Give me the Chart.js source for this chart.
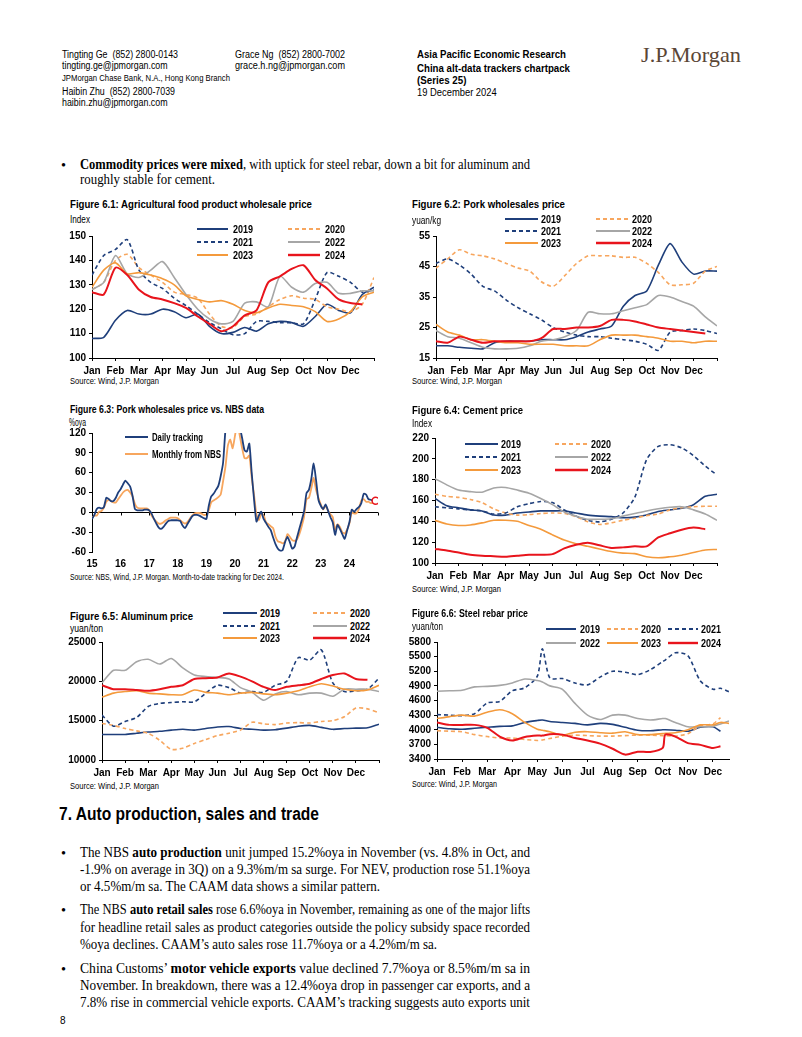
<!DOCTYPE html>
<html>
<head>
<meta charset="utf-8">
<title>China alt-data trackers chartpack</title>
<script src="https://cdn.jsdelivr.net/npm/chart.js@4.4.1/dist/chart.umd.min.js"></script>
<style>
  html, body { margin: 0; padding: 0; background: #fff; }
  #page { position: relative; width: 802px; height: 1037px; overflow: hidden; background: #fff;
          font-family: 'Liberation Sans', Arial, sans-serif; color: #000; }
  .t { position: absolute; white-space: nowrap; line-height: 1; transform-origin: 0 50%; }
  .hd { font-size: 10px; }
  .sm { font-size: 8.5px; }
  .b { font-weight: bold; }
  .ttl { font-size: 11.5px; font-weight: bold; }
  .unit { font-size: 10px; }
  .src { font-size: 9px; }
  .lg { font-size: 10.5px; font-weight: bold; }
  .body { font-family: 'Liberation Serif', 'Times New Roman', serif; font-size: 14.3px; }
  .h2 { font-size: 18px; font-weight: bold; }
  .logo { font-family: 'Liberation Serif', 'Times New Roman', serif; font-size: 21px; color: #5a4636; }
  canvas { position: absolute; }
  svg { position: absolute; overflow: visible; }
</style>
</head>
<body>
<div id="page"></div>
<script>
// ---------- data ----------
var MONTHS = ['Jan','Feb','Mar','Apr','May','Jun','Jul','Aug','Sep','Oct','Nov','Dec'];
var YEARS_SHORT = ['15','16','17','18','19','20','21','22','23','24'];
var SERIES = ['2019','2020','2021','2022','2023','2024'];

// semi-monthly positions, in months from 1 Jan
var HALF_MONTHS = [0,0.5,1,1.5,2,2.5,3,3.5,4,4.5,5,5.5,6,6.5,7,7.5,8,8.5,9,9.5,10,10.5,11,11.5,12];

// Figure 6.1: agricultural food product wholesale price (index)
var agri2019 = [108,108.5,115.5,119.5,118,118,120,119,116.5,118,113,110,110.5,112.5,111,114,115,114.5,113,117,122,119.5,118.5,126,129];
var agri2020 = [128,131,140,142.5,137,134,131,127,126,124.5,118,113,112.5,117,118,121,124,125.5,124.5,124,121,120,119,122,133];
var agri2021 = [134,142,144.5,148.5,136,131,128.5,124.5,121.5,118,114.5,112,109.5,110,115,115,114.5,114.5,114,124,135,133.5,131,127,128];
var agri2022 = [128,131,142,134.5,133,136,139.5,133,126,120,116,114,115,122.5,123,121,133.5,129,127,130.5,131,126.5,126.5,127.5,127.5];
var agri2023 = [129,136,139,134.5,135,134,132.5,130,125.5,124,123,123.5,122,119.5,118.5,120.5,122,121.5,121,119,115,116,119,125,127];
var agri2024 = [127,126,137,134,128,125,124,122.5,120.5,117,114,111,113,117.5,119.5,131,133.5,136.5,138,132,128.5,124,122.5,122,null];

// Figure 6.2: pork wholesale price (yuan/kg)
var pork2019 = [19,19,18.5,18.2,18,20,20.5,20.5,20.5,21,21,21,22,23.5,24.5,25.5,32,35.5,37,45.5,52.5,46.5,42.5,43.5,43.5];
var pork2020 = [44.5,47.5,50.5,49,48.5,47.5,46,44.5,43.5,40,38.5,42,46,48.5,48.5,48.5,48,48,46,43,39,39,39.5,43.5,45];
var pork2021 = [46,47.5,45.5,42.5,38.5,37,34,31.5,29.5,27.5,25,23.5,22.5,22,22,21.5,21,20.5,19.5,17.5,23.5,24,24.5,24,23];
var pork2022 = [24,22,21.5,20,18.5,18,18,18.2,19,20.5,21,22,24,30,29.5,29.5,30.5,31.5,32.5,35.5,35,33.5,32,28.5,25.5];
var pork2023 = [26,23.5,22.5,21,21,20.5,20,20,19.5,19.5,19.5,19,19,19,21,22.5,22.5,22.5,22,21.5,20.5,20.5,20,20.5,20.5];
var pork2024 = [20.5,20,22,21,20,20.5,20.5,20.5,20.5,21.5,24.5,24.5,25,25,25.5,27.5,27.5,27,26,25,24.5,24,23.5,23,null];

// Figure 6.3: pork price %oya, monthly Jan 2015 - Dec 2024
var trackDaily = [
  -10,-4,5,7,6,8,22,20,17,17,22,30,
  35,42,48,44,39,25,5,3,3,3,4,4,
  3,-2,-10,-17,-23,-25,-22,-17,-13,-12,-12,-12,
  -12,-13,-20,-24,-18,-12,-6,-4,-4,-5,-7,-9,
  -10,10,24,28,34,40,55,75,125,150,160,135,
  140,150,130,112,94,92,104,60,19,-14,-5,1,
  -10,-16,-22,-27,-38,-48,-55,-58,-57,-45,-37,-45,
  -55,-52,-38,-25,-12,2,29,34,50,74,49,19,
  10,5,12,3,-7,-15,-34,-19,-25,-33,-40,-28,
  -15,4,1,5,8,14,28,27,20,19,17,17
];
var nbsMonthly = [
  -8,-5,-5,1,2,7,16,19,17,15,15,20,
  25,30,33,34,30,24,13,7,6,6,6,6,
  3,-5,-10,-14,-17,-17,-15,-12,-10,-8,-8,-8,
  -9,-12,-15,-17,-15,-10,-5,-2,-1,-1,-2,-4,
  -3,3,15,18,20,23,27,47,69,101,110,97,
  116,135,116,97,82,82,86,53,26,-3,-12,-2,
  -4,-15,-18,-21,-24,-37,-44,-45,-47,-44,-33,-37,
  -42,-43,-41,-33,-21,-6,20,22,36,52,34,22,
  12,4,10,3,-3,-7,-26,-18,-22,-30,-32,-26,
  -17,0,-2,-1,5,18,20,16,16,14,14,null
];
var trackLatestMonth = 119;   // Dec 2024, month-to-date
var trackLatest = 17.5;

// Figure 6.4: cement price (index)
var cem2019 = [162,155,153,151,150,146,146,148,149,150,150,150,148,146,145,144.5,143.5,144,146,149.5,151,152.5,156,164,166];
var cem2020 = [166,164,163,161,158,152,148,146,146.5,147.5,148,147.5,144.5,139.5,137,138.5,141,143,145.5,147,151,153,154,154.5,154.5];
var cem2021 = [154,153,152,151,150,147,148,154,157,159,158,151,145,141,139.5,142,148,163,199,212,213.5,210.5,203,193,184.5];
var cem2022 = [181,175,170,168.5,168,172,172.5,170,167,162,156,149,145,142,142,142.5,145,147.5,150,152,153.5,154,151,147,141];
var cem2023 = [141,137.5,136,136.5,138.5,141,141,140,136,132.5,127,122,118.5,116,113.5,111,109.5,109,106,105,106,107.5,110,112.5,113];
var cem2024 = [113.5,112,110,108,107,106.5,106,107,108,108,108.5,114,117.5,119.5,117,114.5,115,116,116,124.5,128.5,132,134,132.5,null];

// Figure 6.5: aluminum price (yuan/ton)
var alu2019 = [13250,13250,13250,13400,13550,13650,13800,13900,13800,14000,14200,14250,14000,13900,13800,13850,14050,14300,14400,14150,13900,14000,14050,14100,14550];
var alu2020 = [14650,14400,14000,13700,13400,12500,11350,11500,12100,12600,13100,13400,13800,14800,14600,14500,14700,14750,14700,14900,15000,15500,16600,16500,16000];
var alu2021 = [15700,14300,14900,15400,16800,17200,17300,17400,17400,18500,19500,19200,18500,18700,18600,19500,20000,23000,22700,24000,19800,18700,18800,19000,20400];
var alu2022 = [19800,21400,21400,22500,22800,22200,22900,21700,20800,20600,20500,20300,19200,18600,17600,18400,18700,18300,18500,18500,18100,19000,19000,19000,18700];
var alu2023 = [18000,18500,18700,18800,18500,18400,18300,18300,18900,18600,18500,18300,18500,18600,18400,18300,18500,18800,19300,19700,19400,19000,18800,18900,19500];
var alu2024 = [19500,19000,19000,18900,18800,19000,19300,19500,20300,20400,20500,21000,20600,20000,19300,18900,19300,19500,19700,20300,20800,21000,20300,20200,null];

// Figure 6.6: steel rebar price (yuan/ton), irregular sampling in months
var STEEL_X = [0,0.5,1,1.5,2,2.5,3,3.5,4,4.2,4.5,5,5.5,6,6.5,7,7.5,8,8.5,9,9.1,9.5,10,10.5,11,11.3,11.64];
var steel2019 = [4050,4020,4010,4030,4050,4070,4080,4150,4190,4200,4170,4150,4130,4100,4130,4110,4050,3990,3980,4000,4000,3990,3970,4050,4060,3970,null];
var steel2020 = [3980,3970,3960,3900,3860,3830,3830,3800,3780,3790,3820,3870,3890,3880,3870,3870,3880,3890,3890,3880,3880,3870,3920,4080,4120,4250,null];
var steel2021 = [4310,4300,4290,4330,4550,4580,4800,4860,5100,5660,5060,5050,4960,4920,5080,5200,5180,5130,5230,5400,5430,5580,5520,5000,4830,4850,4780];
var steel2022 = [4790,4800,4810,4880,4890,4910,4960,5040,5010,4980,4900,4830,4540,4300,4210,4300,4300,4230,4200,4230,4230,4150,4060,4060,4070,4120,4180];
var steel2023 = [4230,4270,4300,4280,4360,4410,4330,4150,4010,3990,3960,3890,3950,3960,3940,3930,3960,3900,3900,3920,3925,3940,4000,4100,4100,4150,4130];
var steel2024 = [4150,4100,4100,4100,4040,3860,3780,3850,3880,3880,3910,3900,3830,3780,3715,3610,3490,3550,3545,3630,3900,3860,3725,3690,3625,3660,null];

// ---------- helpers ----------
var page = document.getElementById('page');
var SVGNS = 'http://www.w3.org/2000/svg';
var NAVY = '#1f3f7b', ORANGE_L = '#f7a65e', GRAY = '#a6a6a6', ORANGE = '#f49a3c', RED = '#e8141c';
var STYLE = {
  '2019': { c: NAVY, d: [], w: 1.6 },
  '2020': { c: ORANGE_L, d: [4, 3], w: 1.6 },
  '2021': { c: NAVY, d: [4, 3], w: 1.6 },
  '2022': { c: GRAY, d: [], w: 1.6 },
  '2023': { c: ORANGE, d: [], w: 1.6 },
  '2024': { c: RED, d: [], w: 2 }
};

function hasFont(name) {
  var c = document.createElement('canvas').getContext('2d');
  c.font = '40px monospace';
  var a = c.measureText('mmmwwwiiilll').width;
  c.font = '40px "' + name + '", monospace';
  return Math.abs(c.measureText('mmmwwwiiilll').width - a) > 0.5;
}
var NARROW = hasFont('Liberation Sans Narrow');
var TICK_FONT = NARROW ? { family: "'Liberation Sans Narrow'", size: 11.5, weight: 'bold' }
                       : { family: "'Liberation Sans'", size: 10, weight: 'bold' };

function txt(x, y, html, cls, w) {
  var d = document.createElement('div');
  d.className = 't ' + (cls || '');
  d.innerHTML = html;
  d.style.left = x + 'px';
  d.style.top = y + 'px';
  d.style.transform = 'translateY(-50%)';
  page.appendChild(d);
  if (w) {
    var nat = d.getBoundingClientRect().width;
    d.style.transform = 'translateY(-50%) scaleX(' + (w / nat).toFixed(4) + ')';
  }
  return d;
}

function jline(x, y, html, w, justify) {
  var d = txt(x, y, html, 'body');
  var nat = d.getBoundingClientRect().width;
  if (justify && nat < w) {
    var n = (d.textContent.match(/ /g) || []).length;
    d.style.wordSpacing = ((w - nat) / n).toFixed(3) + 'px';
  } else {
    d.style.transform = 'translateY(-50%) scaleX(' + (w / nat).toFixed(4) + ')';
  }
}

function lineSample(x0, x1, y, color, dash, width) {
  var s = document.createElementNS(SVGNS, 'svg');
  s.setAttribute('width', x1 - x0);
  s.setAttribute('height', 6);
  s.style.left = x0 + 'px';
  s.style.top = (y - 3) + 'px';
  var l = document.createElementNS(SVGNS, 'line');
  l.setAttribute('x1', 0); l.setAttribute('x2', x1 - x0);
  l.setAttribute('y1', 3); l.setAttribute('y2', 3);
  l.setAttribute('stroke', color);
  l.setAttribute('stroke-width', width);
  if (dash.length) l.setAttribute('stroke-dasharray', dash.join(' '));
  s.appendChild(l);
  page.appendChild(s);
}

function legend(items, cols, rows) {
  items.forEach(function (it, i) {
    var col = cols[i % cols.length], row = rows[Math.floor(i / cols.length)];
    lineSample(col[0], col[1], row, it.c, it.d, it.w);
    txt(col[2], row, it.label, 'lg', it.tw);
  });
}

function yearDatasets(xs, seriesVals) {
  var out = [];
  SERIES.forEach(function (yr, k) {
    var st = STYLE[yr];
    out.push({
      label: yr,
      data: xs.map(function (x, i) { return { x: x, y: seriesVals[k][i] }; }),
      borderColor: st.c, borderDash: st.d, borderWidth: st.w,
      pointRadius: 0, fill: false, spanGaps: false
    });
  });
  return out.reverse();   // 2024 drawn on top
}

function yearLegendItems() {
  return SERIES.map(function (yr) {
    var st = STYLE[yr];
    return { label: yr, c: st.c, d: st.d, w: st.w + 0.4, tw: 20 };
  });
}

var ML = 46, MT = 10, MR = 8, MB = 26;

function monthAxis(max) {
  return {
    type: 'linear', min: 0, max: max,
    afterFit: function (s) { s.height = MB; },
    ticks: {
      stepSize: 1, autoSkip: false, maxRotation: 0, includeBounds: false, padding: 4,
      color: '#000', font: TICK_FONT,
      callback: function (v) { var r = Math.round(v); return Math.abs(v - r) < 1e-6 && MONTHS[r] ? MONTHS[r] : ''; }
    },
    grid: { display: true, drawOnChartArea: false, drawTicks: true, tickLength: 3, color: '#000' },
    border: { display: true, color: '#000' }
  };
}

function valueAxis(min, max, step) {
  return {
    min: min, max: max,
    afterFit: function (s) { s.width = ML; },
    ticks: { stepSize: step, padding: 3, color: '#000', font: TICK_FONT, autoSkip: false,
      callback: function (v) { return String(v); } },
    grid: { display: true, drawOnChartArea: false, drawTicks: true, tickLength: 3, color: '#000' },
    border: { display: true, color: '#000' }
  };
}

function drawChart(plot, datasets, xScale, yScale, extra) {
  var cv = document.createElement('canvas');
  var w = plot.x1 - plot.x0 + ML + MR, h = plot.y1 - plot.y0 + MT + MB;
  cv.width = w; cv.height = h;
  cv.style.left = (plot.x0 - ML) + 'px';
  cv.style.top = (plot.y0 - MT) + 'px';
  cv.style.width = w + 'px'; cv.style.height = h + 'px';
  page.appendChild(cv);
  return new Chart(cv, {
    type: 'line',
    data: { datasets: datasets },
    options: {
      responsive: false, animation: false, devicePixelRatio: 1,
      layout: { padding: { left: 0, top: MT, right: MR, bottom: 0 } },
      plugins: { legend: { display: false }, tooltip: { enabled: false } },
      elements: { point: { radius: 0 }, line: { tension: 0.25, borderJoinStyle: 'round' } },
      scales: { x: xScale, y: yScale }
    },
    plugins: extra || []
  });
}

// ---------- header ----------
txt(61.7, 54.5, 'Tingting Ge&nbsp; (852) 2800-0143', 'hd', 116);
txt(61.7, 66, 'tingting.ge@jpmorgan.com', 'hd', 105.6);
txt(61.7, 78, 'JPMorgan Chase Bank, N.A., Hong Kong Branch', 'sm', 168);
txt(61.7, 91.5, 'Haibin Zhu&nbsp; (852) 2800-7039', 'hd', 113);
txt(61.7, 103, 'haibin.zhu@jpmorgan.com', 'hd', 105.6);
txt(235, 54.5, 'Grace Ng&nbsp; (852) 2800-7002', 'hd', 110);
txt(235, 66, 'grace.h.ng@jpmorgan.com', 'hd', 110);
txt(417.3, 54.5, 'Asia Pacific Economic Research', 'hd b', 149);
txt(417.3, 69, 'China alt-data trackers chartpack', 'hd b', 153);
txt(417.3, 81, '(Series 25)', 'hd b', 49.4);
txt(417.3, 92.5, '19 December 2024', 'hd', 79.7);
txt(640.7, 55, 'J.P.Morgan', 'logo', 100);

// ---------- intro bullet ----------
txt(61, 164.5, '&bull;', 'body');
jline(80, 164, '<b>Commodity prices were mixed</b>, with uptick for steel rebar, down a bit for aluminum and', 450, true);
jline(80, 179.3, 'roughly stable for cement.', 135, false);

// ---------- Figure 6.1 ----------
txt(70, 205, 'Figure 6.1: Agricultural food product wholesale price', 'ttl', 242);
txt(70, 220, 'Index', 'unit', 20);
txt(70, 380.7, 'Source: Wind, J.P. Morgan', 'src', 89);
drawChart({ x0: 92, x1: 374, y0: 236, y1: 358 },
  yearDatasets(HALF_MONTHS, [agri2019, agri2020, agri2021, agri2022, agri2023, agri2024]),
  monthAxis(12), valueAxis(100, 150, 10));
legend(yearLegendItems(), [[197, 228, 233], [288, 320, 325]], [229, 242, 255]);

// ---------- Figure 6.2 ----------
txt(412, 205, 'Figure 6.2: Pork wholesales price', 'ttl', 153);
txt(412, 221, 'yuan/kg', 'unit', 29);
txt(412, 380.7, 'Source: Wind, J.P. Morgan', 'src', 90);
drawChart({ x0: 436, x1: 717, y0: 236, y1: 358 },
  yearDatasets(HALF_MONTHS, [pork2019, pork2020, pork2021, pork2022, pork2023, pork2024]),
  monthAxis(12), valueAxis(15, 55, 10));
legend(yearLegendItems(), [[505, 538, 541], [596, 630, 632]], [218.5, 230.5, 243]);

// ---------- Figure 6.3 ----------
txt(70, 410, 'Figure 6.3: Pork wholesales price vs. NBS data', 'ttl', 194);
txt(69, 422.7, '%oya', 'unit', 17);
txt(70, 577.3, 'Source: NBS, Wind, J.P. Morgan. Month-to-date tracking for Dec 2024.', 'src', 214);
var monthIdx = trackDaily.map(function (_, i) { return i; });
var zeroTicks = {
  id: 'zeroTicks',
  afterDraw: function (c) {
    var xs = c.scales.x, y0 = Math.round(c.scales.y.getPixelForValue(0)) + 0.5, ctx = c.ctx;
    ctx.save(); ctx.strokeStyle = '#000'; ctx.lineWidth = 1;
    xs.ticks.forEach(function (t) {
      var px = Math.round(xs.getPixelForValue(t.value)) + 0.5;
      ctx.beginPath(); ctx.moveTo(px, y0); ctx.lineTo(px, y0 + 3); ctx.stroke();
    });
    ctx.restore();
  }
};
var yoyY = valueAxis(-60, 120, 30);
yoyY.grid = { display: true, drawOnChartArea: true, drawTicks: true, tickLength: 3, tickColor: '#000',
  color: function (c) { return c.tick && c.tick.value === 0 ? '#000' : 'rgba(0,0,0,0)'; } };
drawChart({ x0: 92, x1: 378, y0: 433, y1: 552 },
  [
    { label: 'latest', data: [{ x: trackLatestMonth, y: trackLatest }], showLine: false,
      pointRadius: 3.5, pointBorderColor: RED, pointBackgroundColor: '#fff', pointBorderWidth: 1.5 },
    { label: 'Daily tracking', data: monthIdx.map(function (i) { return { x: i, y: trackDaily[i] }; }),
      borderColor: NAVY, borderWidth: 1.8, pointRadius: 0, tension: 0.2 },
    { label: 'Monthly from NBS', data: monthIdx.map(function (i) { return { x: i, y: nbsMonthly[i] }; }),
      borderColor: ORANGE_L, borderWidth: 1.8, pointRadius: 0, tension: 0.2 }
  ],
  {
    type: 'linear', min: 0, max: 120,
    afterFit: function (s) { s.height = MB; },
    ticks: { stepSize: 12, autoSkip: false, maxRotation: 0, padding: 6, color: '#000', font: TICK_FONT,
      callback: function (v) { return YEARS_SHORT[Math.round(v / 12)] || ''; } },
    grid: { display: false, drawTicks: false },
    border: { display: false }
  },
  yoyY, [zeroTicks]);
legend([
  { label: 'Daily tracking', c: NAVY, d: [], w: 2, tw: 51 },
  { label: 'Monthly from NBS', c: ORANGE_L, d: [], w: 2, tw: 69 }
], [[125, 148, 152]], [437.3, 454.3]);

// ---------- Figure 6.4 ----------
txt(412, 411, 'Figure 6.4: Cement price', 'ttl', 111);
txt(412, 424, 'Index', 'unit', 20);
txt(412, 589, 'Source: Wind, J.P. Morgan', 'src', 89);
drawChart({ x0: 435, x1: 717, y0: 438, y1: 563 },
  yearDatasets(HALF_MONTHS, [cem2019, cem2020, cem2021, cem2022, cem2023, cem2024]),
  monthAxis(12), valueAxis(100, 220, 20));
legend(yearLegendItems(), [[465, 498, 501], [555, 588, 591]], [444.3, 457.3, 470]);

// ---------- Figure 6.5 ----------
txt(70, 616.7, 'Figure 6.5: Aluminum price', 'ttl', 123);
txt(70, 629, 'yuan/ton', 'unit', 33);
txt(70, 786, 'Source: Wind, J.P. Morgan', 'src', 89);
drawChart({ x0: 102, x1: 379, y0: 642, y1: 760 },
  yearDatasets(HALF_MONTHS, [alu2019, alu2020, alu2021, alu2022, alu2023, alu2024]),
  monthAxis(12), valueAxis(10000, 25000, 5000));
legend(yearLegendItems(), [[223, 257, 260], [313, 347, 350]], [613.3, 625.7, 638.3]);

// ---------- Figure 6.6 ----------
txt(412, 614.3, 'Figure 6.6: Steel rebar price', 'ttl', 116);
txt(412, 626.7, 'yuan/ton', 'unit', 31);
txt(412, 783.7, 'Source: Wind, J.P. Morgan', 'src', 85);
drawChart({ x0: 437, x1: 729, y0: 642, y1: 759 },
  yearDatasets(STEEL_X, [steel2019, steel2020, steel2021, steel2022, steel2023, steel2024]),
  monthAxis(11.64), valueAxis(3400, 5800, 300));
legend(yearLegendItems(), [[546, 576, 580], [607, 638, 641], [668, 698, 701]], [629, 642.7]);

// ---------- section 7 ----------
txt(59.4, 814, '7. Auto production, sales and trade', 'h2', 260);
[852, 909, 968].forEach(function (y) { txt(61, y + 0.5, '&bull;', 'body'); });
jline(80, 852, 'The NBS <b>auto production</b> unit jumped 15.2%oya in November (vs. 4.8% in Oct, and', 450, true);
jline(80, 869, '-1.9% on average in 3Q) on a 9.3%m/m sa surge. For NEV, production rose 51.1%oya', 450, true);
jline(80, 886, 'or 4.5%m/m sa. The CAAM data shows a similar pattern.', 300, false);
jline(80, 909, 'The NBS <b>auto retail sales</b> rose 6.6%oya in November, remaining as one of the major lifts', 450, true);
jline(80, 927, 'for headline retail sales as product categories outside the policy subsidy space recorded', 450, true);
jline(80, 944, '%oya declines. CAAM\u2019s auto sales rose 11.7%oya or a 4.2%m/m sa.', 357, false);
jline(80, 968, 'China Customs\u2019 <b>motor vehicle exports</b> value declined 7.7%oya or 8.5%m/m sa in', 450, true);
jline(80, 985, 'November. In breakdown, there was a 12.4%oya drop in passenger car exports, and a', 450, true);
jline(80, 1002, '7.8% rise in commercial vehicle exports. CAAM\u2019s tracking suggests auto exports unit', 450, true);
txt(60, 1021, '8', 'hd');
</script>
</body>
</html>
